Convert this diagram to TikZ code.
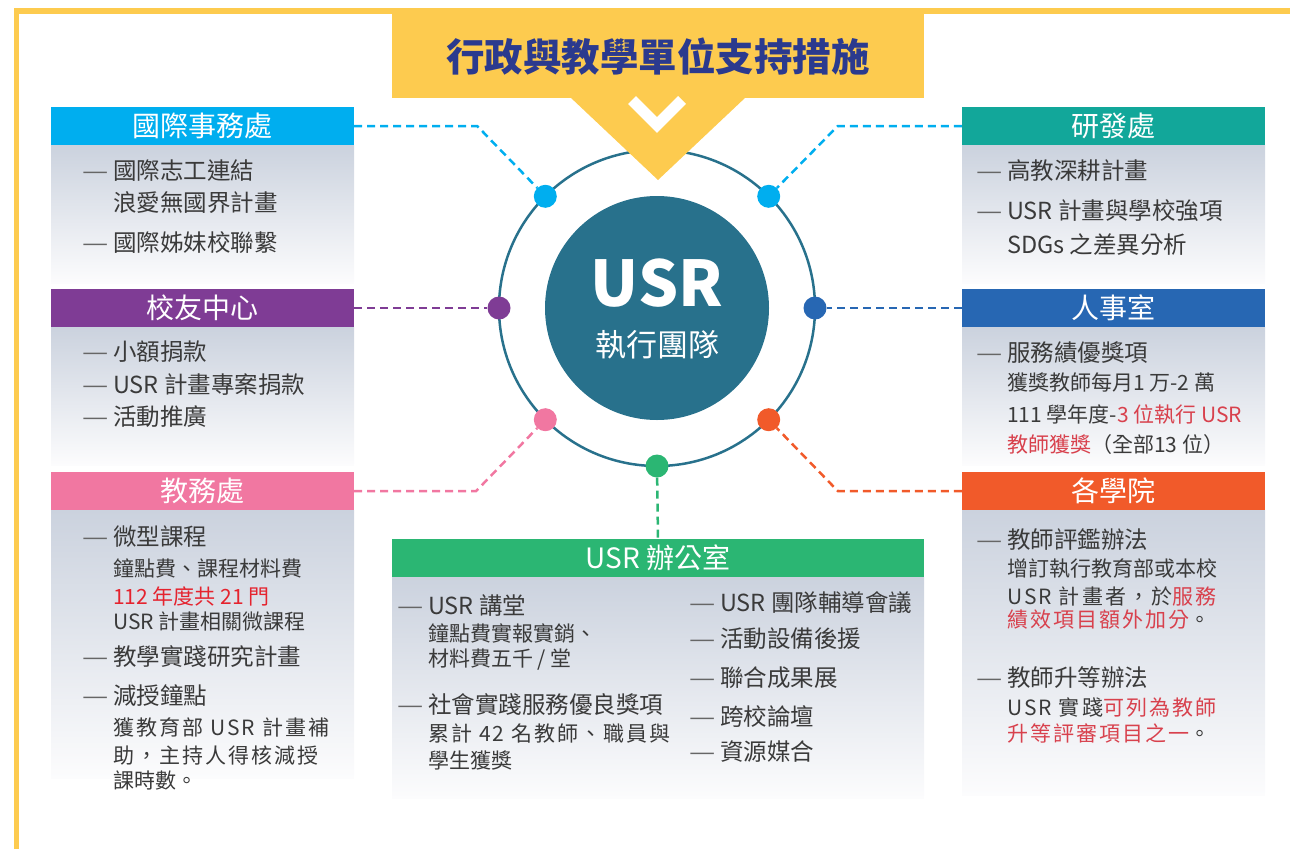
\documentclass[tikz,border=0pt]{standalone}
\usepackage{fontspec}
\usepackage{graphicx}
\setmainfont{Noto Sans CJK TC}
\definecolor{cYel}{HTML}{FDCB4F}
\definecolor{cTitle}{HTML}{2B3A8E}
\definecolor{cRing}{HTML}{28718C}
\definecolor{cSky}{HTML}{00AEEF}
\definecolor{cTeal}{HTML}{12A79A}
\definecolor{cPurp}{HTML}{7F3C95}
\definecolor{cBlue}{HTML}{2767B3}
\definecolor{cPink}{HTML}{F177A1}
\definecolor{cOrg}{HTML}{F15A2A}
\definecolor{cGrn}{HTML}{2BB673}
\definecolor{cTxt}{HTML}{3A3A3A}
\definecolor{cDash}{HTML}{666666}
\definecolor{cRedA}{HTML}{E5232E}
\definecolor{cRedB}{HTML}{D8414D}
\definecolor{cBodyTop}{HTML}{CBD2DE}
\definecolor{cBodyBot}{HTML}{FCFCFD}
\newcommand{\itemdash}{\makebox[31pt][l]{\textcolor{cDash}{\scalebox{1.25}[1]{—}}}}
\tikzset{
  hdr/.style={rectangle, inner sep=0pt, minimum width=303pt, minimum height=38pt, text=white, font=\fontsize{28}{28}\selectfont},
  mainline/.style={anchor=west, inner sep=0pt, text=cTxt, font=\fontsize{23.5}{24}\selectfont},
  subline/.style={anchor=west, inner sep=0pt, text=cTxt, font=\fontsize{21}{22}\selectfont},
  spaced/.style={font=\fontsize{21}{22}\selectfont\addfontfeature{LetterSpace=10}},
  dotnode/.style={circle, inner sep=0pt, minimum size=23pt},
  conn/.style={line width=2.5pt, dash pattern=on 8pt off 5pt},
  body/.style={top color=cBodyTop, bottom color=cBodyBot}
}
\begin{document}
\begin{tikzpicture}[x=1pt,y=-1pt]
\useasboundingbox (0,0) rectangle (1290,849);
% border
\draw[cYel, line width=5.5pt] (16.5,849) -- (16.5,11) -- (1290,11);
% ring and centre
\draw[cRing, line width=2.5pt] (657,308) circle[radius=158pt];
\node[circle, fill=cRing, minimum size=224pt, inner sep=0pt] (core) at (657,308) {};
\node[text=white, inner sep=0pt, font=\fontsize{63}{63}\selectfont\bfseries] (usr) at (657,283) {USR};
\node[text=white, inner sep=0pt, font=\fontsize{31}{31}\selectfont] (team) at (657,345) {執行團隊};
% banner
\node[fill=cYel, minimum width=532pt, minimum height=90pt, inner sep=0pt] (banner) at (658,53) {};
\fill[cYel] (570,97) -- (746,97) -- (658,180) -- cycle;
\draw[white, line width=11pt] (632,100) -- (657,125) -- (682,100);
\node[text=cTitle, inner sep=0pt, font=\fontsize{38.5}{39}\selectfont\bfseries] (title) at (658,57) {行政與教學單位支持措施};
% dots
\node[dotnode, fill=cSky] (d1) at (545.3,196.3) {};
\node[dotnode, fill=cSky] (d2) at (768.7,196.3) {};
\node[dotnode, fill=cPurp] (d3) at (499,308) {};
\node[dotnode, fill=cBlue] (d4) at (815,308) {};
\node[dotnode, fill=cPink] (d5) at (545.3,419.7) {};
\node[dotnode, fill=cOrg] (d6) at (768.7,419.7) {};
\node[dotnode, fill=cGrn] (d7) at (657,466) {};
% bodies
\shade[body] (51,145) rectangle (354,283);
\shade[body] (51,327) rectangle (354,465);
\shade[body] (51,510) rectangle (354,778);
\shade[body] (962,145) rectangle (1265,283);
\shade[body] (962,327) rectangle (1265,465);
\shade[body] (962,510) rectangle (1265,795);
\shade[body] (392,577) rectangle (924,798);
% headers
\node[hdr, fill=cSky] (intl) at (202.5,126) {國際事務處};
\node[hdr, fill=cPurp] (alum) at (202.5,308) {校友中心};
\node[hdr, fill=cPink] (acad) at (202.5,491) {教務處};
\node[hdr, fill=cTeal] (rd) at (1113.5,126) {研發處};
\node[hdr, fill=cBlue] (hr) at (1113.5,308) {人事室};
\node[hdr, fill=cOrg] (col) at (1113.5,491) {各學院};
\node[hdr, fill=cGrn, minimum width=532pt] (office) at (658,558) {USR 辦公室};
% connectors
\draw[conn, cSky] (intl.east) -- ++(123,0) -- (d1);
\draw[conn, cSky] (rd.west) -- ++(-124,0) -- (d2);
\draw[conn, cPurp] (alum.east) -- (d3);
\draw[conn, cBlue] (hr.west) -- (d4);
\draw[conn, cPink] (acad.east) -- ++(122,0) -- (d5);
\draw[conn, cOrg] (col.west) -- ++(-124,0) -- (d6);
\draw[conn, cGrn] (d7) -- (office.north);
% texts: 國際事務處
\node[mainline] (t11) at (82,171) {\itemdash 國際志工連結};
\node[mainline] (t12) at (113,203) {浪愛無國界計畫};
\node[mainline] (t13) at (82,243) {\itemdash 國際姊妹校聯繫};
% 校友中心
\node[mainline] (t21) at (82,352) {\itemdash 小額捐款};
\node[mainline] (t22) at (82,385) {\itemdash USR 計畫專案捐款};
\node[mainline] (t23) at (82,417) {\itemdash 活動推廣};
% 教務處
\node[mainline] (t31) at (82,537) {\itemdash 微型課程};
\node[subline] (t32) at (113,568) {鐘點費、課程材料費};
\node[subline, text=cRedA] (t33) at (113,596) {112 年度共 21 門};
\node[subline] (t34) at (113,621) {USR 計畫相關微課程};
\node[mainline] (t35) at (82,657) {\itemdash 教學實踐研究計畫};
\node[mainline] (t36) at (82,696) {\itemdash 減授鐘點};
\node[subline, spaced] (t37) at (113,727) {獲教育部 USR 計畫補};
\node[subline, spaced] (t38) at (113,755) {助，主持人得核減授};
\node[subline] (t39) at (113,780) {課時數。};
% 研發處
\node[mainline] (t41) at (976,171) {\itemdash 高教深耕計畫};
\node[mainline] (t42) at (976,211) {\itemdash USR 計畫與學校強項};
\node[mainline] (t43) at (1007,245) {SDGs 之差異分析};
% 人事室
\node[mainline] (t51) at (976,353) {\itemdash 服務績優獎項};
\node[subline] (t52) at (1007,382) {獲獎教師每月1 万-2 萬};
\node[subline] (t53) at (1007,415) {111 學年度-{\color{cRedB}3 位執行 USR}};
\node[subline] (t54) at (1007,445) {{\color{cRedB}教師獲獎}（全部13 位）};
% 各學院
\node[mainline] (t61) at (976,540) {\itemdash 教師評鑑辦法};
\node[subline] (t62) at (1007,568) {增訂執行教育部或本校};
\node[subline, spaced] (t63) at (1007,596) {USR 計畫者，於{\color{cRedB}服務}};
\node[subline, spaced] (t64) at (1007,620) {{\color{cRedB}績效項目額外加分}。};
\node[mainline] (t65) at (976,677) {\itemdash 教師升等辦法};
\node[subline, spaced] (t66) at (1007,707) {USR 實踐{\color{cRedB}可列為教師}};
\node[subline, spaced] (t67) at (1007,733) {{\color{cRedB}升等評審項目之一}。};
% USR 辦公室
\node[mainline] (t71) at (397,605) {\itemdash USR 講堂};
\node[subline] (t72) at (428,633) {鐘點費實報實銷、};
\node[subline] (t73) at (428,660) {材料費五千 / 堂};
\node[mainline] (t74) at (397,705) {\itemdash 社會實踐服務優良獎項};
\node[subline, spaced] (t75) at (428,733) {累計 42 名教師、職員與};
\node[subline] (t76) at (428,760) {學生獲獎};
\node[mainline] (t81) at (689,603) {\itemdash USR 團隊輔導會議};
\node[mainline] (t82) at (689,639) {\itemdash 活動設備後援};
\node[mainline] (t83) at (689,678) {\itemdash 聯合成果展};
\node[mainline] (t84) at (689,716) {\itemdash 跨校論壇};
\node[mainline] (t85) at (689,752) {\itemdash 資源媒合};
\end{tikzpicture}
\end{document}
